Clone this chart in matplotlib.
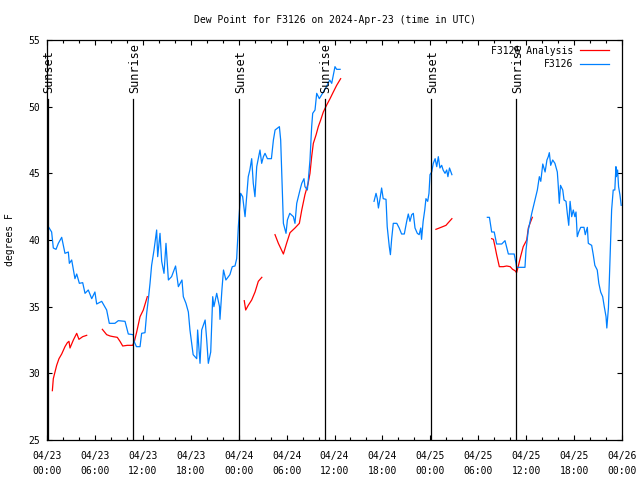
# Dew point plot for F3126, gnuplot-style layout redone with matplotlib
import numpy as np
import matplotlib
matplotlib.use("Agg")
import matplotlib.pyplot as plt

nan = np.nan

# hours since 2024-04-23 00:00 UTC, nan marks a gap in the record
obs_hours = [0.17, 0.58, 0.79, 1.13, 1.42, 1.84, 2.25, 2.67, 2.8, 3.09, 3.5, 3.72, 4.05, 4.47,
             4.76, 5.17, 5.6, 6.0, 6.22, 6.85, 7.47, 7.8, 8.5, 8.93, 9.77, 10.18, 10.8, 10.9,
             11.2, 11.65, 11.85, 12.27, 12.48, 12.7, 12.9, 13.1, 13.4, 13.73, 13.86, 14.15,
             14.36, 14.65, 14.9, 15.2, 15.6, 16.1, 16.45, 16.9, 17.07, 17.4, 17.7, 17.9, 18.3,
             18.75, 18.86, 19.16, 19.37, 19.8, 20.0, 20.2, 20.5, 20.75, 20.9, 21.25, 21.6,
             21.66, 21.9, 22.1, 22.4, 22.9, 23.2, 23.54, 23.75, 23.96, 24.08, 24.25, 24.5,
             24.8, 25.0, 25.2, 25.4, 25.63, 25.83, 26.04, 26.26, 26.46, 26.67, 26.88, 27.1,
             27.3, 27.6, 28.1, 28.35, 28.56, 29.1, 29.26, 29.47, 29.6, 29.93, 30.1, 30.4,
             30.85, 31.05, 31.27, 31.68, 31.9, 32.18, 32.3, 32.6, 32.72, 32.93, 33.14, 33.27,
             33.56, 33.77, 34.1, 34.6, 35.0, 35.4, 35.65, 36.06, 36.27, 36.7,
             38.0,
             40.95, 41.2, 41.36, 41.5, 41.7, 41.9, 42.1, 42.45, 42.6, 42.86, 43.0, 43.16,
             43.36, 43.8, 44.1, 44.4, 44.74, 45.04, 45.24, 45.45, 45.67, 45.87, 46.08, 46.37,
             46.6, 46.8, 46.9, 47.1, 47.3, 47.45, 47.67, 47.83, 47.96, 48.17, 48.37, 48.6,
             48.8, 49.0, 49.2, 49.42, 49.6, 49.84, 50.05, 50.2, 50.4, 50.7,
             52.0,
             55.14, 55.4, 55.68, 56.0, 56.3, 56.94, 57.35, 57.77, 58.5, 58.73, 58.8, 59.85,
             59.98, 60.27, 60.7, 61.1, 61.4, 61.65, 61.83, 62.08, 62.37, 62.6, 62.77, 62.9,
             63.07, 63.32, 63.6, 63.9, 64.0, 64.15, 64.3, 64.58, 64.74, 64.99, 65.15, 65.33,
             65.5, 65.7, 65.9, 66.1, 66.24, 66.4, 66.58, 66.83, 67.24, 67.4, 67.66, 67.78,
             68.2, 68.4, 68.6, 68.9, 69.1, 69.33, 69.58, 69.78, 70.0, 70.1, 70.3, 70.42,
             70.5, 70.7, 70.9, 71.1, 71.24, 71.3, 71.45, 71.57, 71.74, 71.9]
obs_dewpt = [41.0, 40.6, 39.4, 39.3, 39.75, 40.2, 39.0, 39.1, 38.25, 38.5, 37.1, 37.45, 36.75,
             36.8, 36.0, 36.25, 35.6, 36.1, 35.2, 35.4, 34.75, 33.75, 33.75, 33.95, 33.9,
             32.95, 32.9, 32.4, 32.0, 32.0, 33.0, 33.05, 34.5, 35.6, 36.75, 38.1, 39.25,
             40.75, 38.75, 40.5, 38.4, 37.5, 39.75, 37.0, 37.25, 38.05, 36.5, 37.0, 35.75,
             35.25, 34.6, 33.25, 31.4, 31.1, 33.25, 30.75, 33.25, 34.0, 32.5, 30.75, 31.6,
             35.75, 35.0, 36.0, 35.0, 34.05, 36.25, 37.75, 37.0, 37.4, 38.0, 38.05, 38.6,
             41.0, 42.0, 43.5, 43.25, 41.75, 43.25, 44.75, 45.25, 46.1, 44.25, 43.25, 45.5,
             46.1, 46.75, 45.75, 46.25, 46.5, 46.1, 46.1, 47.5, 48.25, 48.5, 47.5, 43.75,
             41.25, 40.5, 41.5, 42.0, 41.75, 41.25, 42.75, 43.75, 44.25, 44.6, 44.0, 43.75,
             44.5, 46.0, 48.5, 49.5, 49.75, 51.0, 50.6, 51.1, 51.5, 52.0, 51.75, 53.0, 52.8,
             52.8,
             nan,
             42.9, 43.5, 43.1, 42.4, 43.1, 43.9, 43.1, 43.05, 41.0, 39.5, 38.9, 40.1, 41.25,
             41.25, 40.9, 40.45, 40.45, 41.4, 41.95, 41.4, 41.9, 42.0, 40.9, 40.5, 40.4,
             40.9, 40.05, 41.4, 42.25, 43.1, 42.9, 43.5, 44.9, 45.1, 45.75, 46.1, 45.5,
             46.25, 45.4, 45.6, 45.25, 45.0, 45.25, 44.75, 45.4, 44.9,
             nan,
             41.7, 41.7, 40.6, 40.6, 39.7, 39.7, 39.95, 38.95, 38.95, 38.25, 37.95, 37.95,
             39.25, 40.75, 42.0, 43.0, 43.75, 44.75, 44.4, 45.7, 45.1, 46.0, 46.25, 46.55,
             45.6, 46.0, 45.75, 45.1, 44.25, 42.75, 44.1, 43.75, 43.0, 42.9, 42.0, 41.1,
             42.9, 41.75, 42.25, 41.75, 42.1, 40.25, 40.6, 40.95, 40.95, 40.4, 40.95, 39.75,
             39.6, 38.9, 38.1, 37.75, 36.75, 36.1, 35.75, 35.0, 34.25, 33.4, 34.9, 37.1,
             38.6, 42.25, 43.75, 43.75, 45.5, 44.75, 45.25, 44.0, 43.4, 42.6]

ana_hours = [0.67, 0.79, 1.0, 1.21, 1.5, 1.84, 2.25, 2.55, 2.75, 2.88, 3.3, 3.72, 4.0, 4.47,
             4.97,
             6.0,
             6.93, 7.47, 7.9, 8.3, 8.8, 9.14, 9.48, 10.06, 10.73, 10.94, 11.23, 11.65, 12.06,
             12.56,
             18.0,
             24.7, 24.88, 25.2, 25.63, 26.05, 26.46, 26.9,
             27.5,
             28.55, 28.97, 29.6, 30.0, 30.43, 31.05, 31.6, 31.9, 32.3, 32.7, 32.93, 33.14,
             33.35, 33.7, 33.97, 34.27, 34.6, 35.0, 35.44, 35.85, 36.27, 36.77,
             42.0,
             48.7, 49.13, 49.55, 49.96, 50.25, 50.7,
             53.0,
             55.68, 55.9, 56.1, 56.3, 56.64, 57.14, 57.56, 58.0, 58.3, 58.6, 58.8, 59.0,
             59.3, 59.63, 60.07, 60.27, 60.48, 60.77]
ana_dewpt = [28.7, 29.6, 30.1, 30.6, 31.1, 31.45, 32.0, 32.3, 32.4, 31.9, 32.5, 33.0, 32.55,
             32.75, 32.85,
             nan,
             33.3, 32.9, 32.8, 32.75, 32.7, 32.4, 32.05, 32.1, 32.1, 32.4, 33.1, 34.25, 34.75,
             35.75,
             nan,
             35.45, 34.75, 35.1, 35.5, 36.1, 36.9, 37.2,
             nan,
             40.4, 39.75, 38.95, 39.75, 40.55, 40.9, 41.25, 42.25, 43.4, 44.25, 45.0, 46.25,
             47.25, 47.9, 48.5, 49.0, 49.6, 50.1, 50.6, 51.1, 51.6, 52.1,
             nan,
             40.8, 40.9, 41.0, 41.1, 41.3, 41.6,
             nan,
             40.1, 40.05, 39.5, 38.9, 38.0, 38.0, 38.05, 38.0, 37.8, 37.7, 37.55, 38.0,
             38.75, 39.5, 40.0, 40.9, 41.25, 41.7]

sun_hours = [0.13, 10.83, 24.1, 34.75, 48.13, 58.77]
sun_names = ["Sunset", "Sunrise", "Sunset", "Sunrise", "Sunset", "Sunrise"]

tick_hours = list(range(0, 73, 6))
tick_labels = ["04/23\n00:00", "04/23\n06:00", "04/23\n12:00", "04/23\n18:00",
               "04/24\n00:00", "04/24\n06:00", "04/24\n12:00", "04/24\n18:00",
               "04/25\n00:00", "04/25\n06:00", "04/25\n12:00", "04/25\n18:00",
               "04/26\n00:00"]

plt.rcParams['font.family'] = ['DejaVu Sans Mono']
plt.rcParams['font.size'] = 7

fig = plt.figure(figsize=(6.4, 4.8), dpi=100)
ax = fig.add_axes([47 / 640, 40 / 480, 575 / 640, 400 / 480])

ax.plot(ana_hours, ana_dewpt, color='#ff0000', lw=0.9, label='F3126 Analysis')
ax.plot(obs_hours, obs_dewpt, color='#0080ff', lw=0.9, label='F3126')

# sunrise / sunset markers
for h, name in zip(sun_hours, sun_names):
    ax.plot([h, h], [25, 50.6], color='black', lw=0.9)
    ax.text(h + 0.15, 51.05, name, rotation=90, ha='center', va='bottom', fontsize=8.6)

ax.set_xlim(0, 72)
ax.set_ylim(25, 55)
ax.set_xticks(tick_hours)
ax.set_xticklabels(tick_labels, linespacing=1.6)
ax.set_xticks(range(0, 73, 2), minor=True)
ax.set_yticks(range(25, 56, 5))
ax.tick_params(which='both', direction='in', top=True, right=True)
ax.tick_params(which='major', length=3.6, width=0.8)
ax.tick_params(which='minor', length=2.2, width=0.8)
ax.tick_params(axis='x', pad=8)
ax.tick_params(axis='y', pad=5)
for s in ax.spines.values():
    s.set_linewidth(0.9)

ax.set_ylabel('degrees F', fontsize=7)
ax.yaxis.set_label_coords(-32 / 575, 0.5)
ax.set_title('Dew Point for F3126 on 2024-Apr-23 (time in UTC)', fontsize=7, pad=12)

ax.legend(loc='upper right', bbox_to_anchor=(614 / 640, 1 - 41 / 480),
          bbox_transform=fig.transFigure, frameon=False, markerfirst=False,
          handlelength=3.0, handletextpad=0.7, labelspacing=0.35, borderpad=0)

plt.savefig('out.png', dpi=100)
